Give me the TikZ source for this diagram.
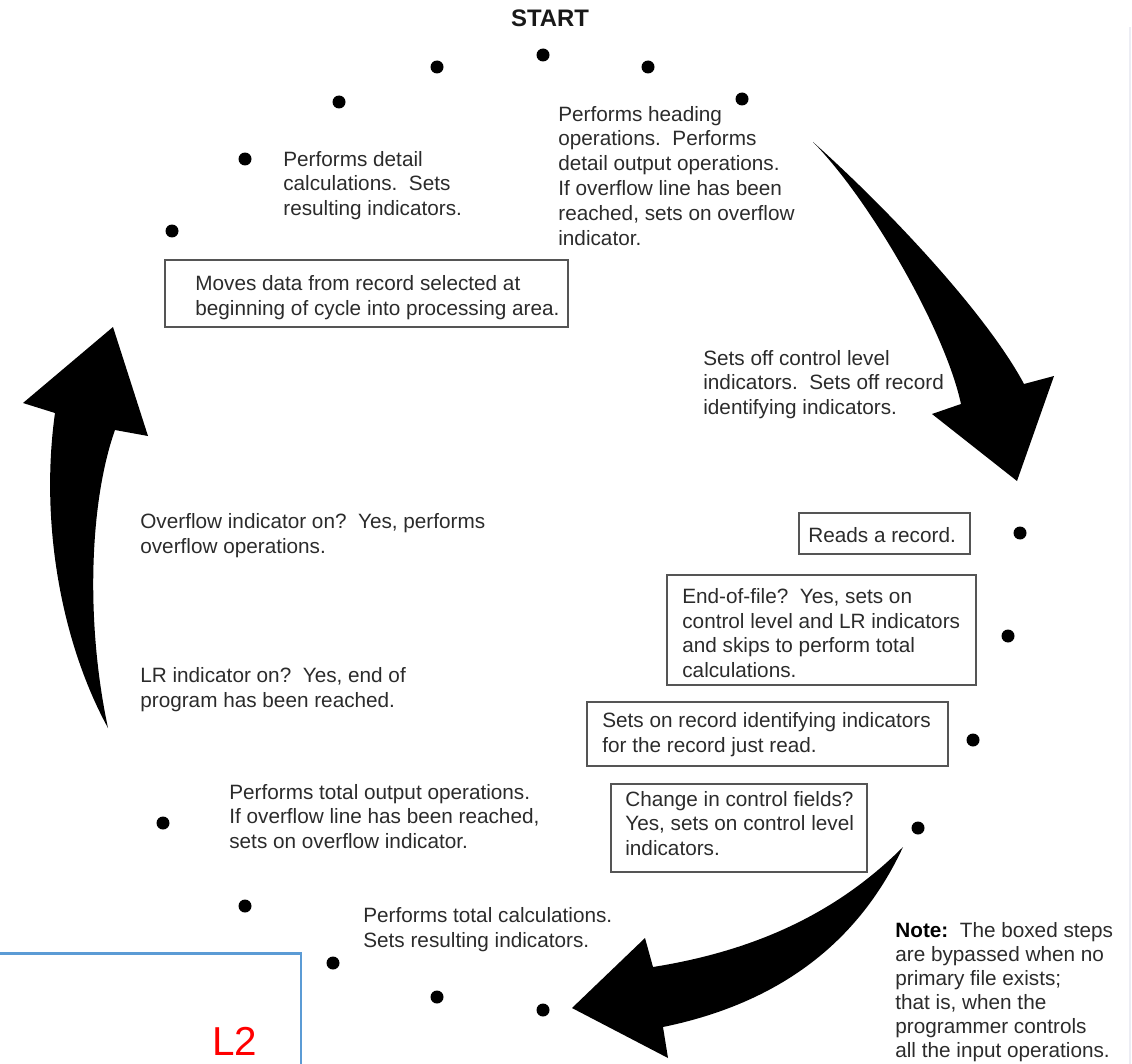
\documentclass[tikz,border=0pt]{standalone}
\usepackage{fontspec}
\setmainfont{Liberation Sans}
\usetikzlibrary{fit}
\definecolor{txtgray}{HTML}{2B2B2B}
\definecolor{boxgray}{HTML}{555555}
\definecolor{paneblue}{HTML}{5B9BD5}
\definecolor{edgegray}{HTML}{ECEDF4}
\tikzset{
  txt/.style={font=\fontsize{11.8}{13.9}\selectfont, text=txtgray, align=left, inner sep=0pt, anchor=base west},
  stepbox/.style={draw=boxgray, line width=0.8pt, inner sep=0pt},
  cycledot/.style={circle, fill=black, inner sep=0pt, minimum size=0.26cm},
  bigarrow/.style={fill=black}
}

\begin{document}
\begin{tikzpicture}[x=0.02cm, y=-0.02cm]
  \useasboundingbox (0,0) rectangle (1132,1064);
  \draw[edgegray, line width=0.8pt] (1130,27) -- (1130,1064);

  % dots of the cycle, clockwise from START
  \foreach \n/\px/\py in {1/543/55, 2/648/67, 3/742/99, 4/1020/533, 5/1008/636,
      6/973/740, 7/918/828, 8/543/1010, 9/437/997, 10/333/963, 11/245/906,
      12/163/823, 13/172/231, 14/245/159, 15/339/102, 16/437/67}
    \node[cycledot] (d\n) at (\px,\py) {};

  \node[font=\fontsize{13.6}{16}\selectfont\bfseries, inner sep=0pt, anchor=base, text=black!90] (start) at (550,27) {START};

  % texts sit on the baseline of their last line
  \node[txt, font=\fontsize{11.8}{14.1}\selectfont] (heading) at (558,245) {Performs heading\\operations.\ \ Performs\\detail output operations.\\If overflow line has been\\reached, sets on overflow\\indicator.};
  \node[txt] (detail) at (283,215) {Performs detail\\calculations.\ \ Sets\\resulting indicators.};

  \node[stepbox, fit={(165,260) (568,327)}] (movebox) {};
  \node[txt] (move) at (195,315) {Moves data from record selected at\\beginning of cycle into processing area.};

  \node[txt] (setsoff) at (703,414) {Sets off control level\\indicators.\ \ Sets off record\\identifying indicators.};

  \node[stepbox, fit={(799,513) (970,554)}] (readbox) {};
  \node[txt] (read) at (808,542) {Reads a record.};
  \node[stepbox, fit={(667,575) (976,685)}] (eofbox) {};
  \node[txt] (eof) at (682,677) {End-of-file?\ \ Yes, sets on\\control level and LR indicators\\and skips to perform total\\calculations.};
  \node[stepbox, fit={(587,702) (948,766)}] (identbox) {};
  \node[txt] (ident) at (602,752) {Sets on record identifying indicators\\for the record just read.};
  \node[stepbox, fit={(611,784) (867,872)}] (ctrlbox) {};
  \node[txt] (ctrl) at (625,855) {Change in control fields?\\Yes, sets on control level\\indicators.};

  \node[txt] (overflow) at (140,553) {Overflow indicator on?\ \ Yes, performs\\overflow operations.};
  \node[txt] (lr) at (140,707) {LR indicator on?\ \ Yes, end of\\program has been reached.};
  \node[txt] (totout) at (229,848) {Performs total output operations.\\If overflow line has been reached,\\sets on overflow indicator.};
  \node[txt] (totcalc) at (363,947) {Performs total calculations.\\Sets resulting indicators.};
  \node[txt, font=\fontsize{11.8}{13.6}\selectfont] (note) at (895,1057) {\textcolor{black}{\bfseries Note:}\ \ The boxed steps\\are bypassed when no\\primary file exists;\\that is, when the\\programmer controls\\all the input operations.};

  % the three big arrows
  \fill[bigarrow] (813,142) .. controls (900,220) and (990,320) .. (1024,384) -- (1054,376)
    -- (1017,481) -- (932,414) -- (961,404) .. controls (945,330) and (870,200) .. (813,142) -- cycle;
  \fill[bigarrow] (903,847) .. controls (840,910) and (760,950) .. (653,967) -- (645,938)
    -- (572,1008) -- (668,1058) -- (663,1027) .. controls (770,1005) and (855,950) .. (903,847) -- cycle;
  \fill[bigarrow] (108,728) .. controls (60,640) and (40,520) .. (55,413) -- (23,403)
    -- (113,327) -- (148,436) -- (115,430) .. controls (90,500) and (85,620) .. (108,728) -- cycle;

  % L2 pane
  \draw[paneblue, line width=1.7pt] (0,953) -- (301,953) -- (301,1064);
  \node[text=red, font=\fontsize{23}{23}\selectfont, inner sep=0pt, anchor=base west] (ltwo) at (212,1055) {L2};
\end{tikzpicture}
\end{document}
